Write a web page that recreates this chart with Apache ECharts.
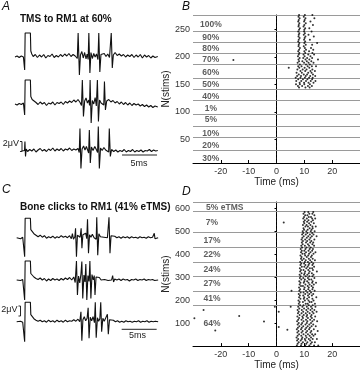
<!DOCTYPE html>
<html><head><meta charset="utf-8">
<script src="https://cdn.jsdelivr.net/npm/echarts@6/dist/echarts.min.js"></script>
<style>html,body{margin:0;padding:0;background:#fff}#c{width:360px;height:371px}</style>
</head><body><div id="c"></div>
<script>
// ---------- DATA ----------
const titleA = 'TMS to RM1 at 60%';
const titleC = 'Bone clicks to RM1 (41% eTMS)';
const scaleUV = 2;   // μV
const scaleMS = 5;   // ms

// waveform traces: [time ms, μV relative to baseline]
const traceA1 = [[0,0],[0.3,0.2],[0.6,-0.1],[0.9,0.2],[1.2,0.0],[1.33,-0.2],[1.38,-2.6],[1.45,4.8],[2.2,4.8],[2.26,1.2],[2.4,0.6],[2.6,0.1],[2.9,0.5],[3.2,-0.1],[3.5,0.4],[3.8,0.0],[4.1,0.5],[4.4,-0.2],[4.7,0.3],[5.0,0.1],[5.3,0.6],[5.6,-0.1],[5.9,0.3],[6.2,0.0],[6.5,0.5],[6.8,0.1],[7.1,0.6],[7.4,0.2],[7.7,0.7],[8.0,0.1],[8.3,0.5],[8.6,0.2],[8.9,-0.3],[9.02,4.8],[9.2,-3.6],[9.35,0.4],[9.55,1.1],[9.75,-0.2],[9.95,0.9],[10.15,-0.4],[10.3,0.6],[10.45,-0.5],[10.55,4.8],[10.7,-3.2],[10.85,0.9],[11.05,-0.3],[11.25,0.7],[11.45,0.0],[11.65,0.6],[11.85,-0.5],[11.97,4.8],[12.12,-3.0],[12.28,0.5],[12.5,0.2],[12.75,0.7],[13.0,0.1],[13.25,0.6],[13.5,-0.1],[13.62,-0.4],[13.75,4.8],[13.9,-2.2],[14.05,0.4],[14.3,0.9],[14.6,0.3],[14.9,0.6],[15.2,0.2],[15.5,0.5],[15.8,0.0],[16.1,0.4],[16.4,0.1],[16.7,0.5],[17.0,-0.1],[17.3,0.4],[17.6,0.0],[17.9,0.5],[18.2,-0.2],[18.5,0.4],[18.8,0.0],[19.1,0.3],[19.4,-0.2],[19.7,0.2],[20.0,-0.1],[20.4,0.1]];
const traceA2 = [[0,0],[0.3,-0.2],[0.6,0.1],[0.9,-0.1],[1.2,0.2],[1.33,0.0],[1.38,-2.2],[1.45,4.8],[2.2,4.8],[2.26,1.5],[2.45,0.9],[2.7,0.5],[3.0,0.3],[3.3,-0.1],[3.6,0.4],[3.9,0.0],[4.2,0.3],[4.5,-0.3],[4.8,0.2],[5.1,0.0],[5.4,0.4],[5.7,-0.2],[6.0,0.3],[6.3,0.1],[6.6,0.4],[6.9,-0.1],[7.2,0.5],[7.5,0.2],[7.8,0.6],[8.1,0.3],[8.4,0.8],[8.7,0.4],[9.0,0.9],[9.3,0.3],[9.5,-0.3],[9.62,4.8],[9.78,-2.5],[9.95,0.6],[10.15,1.2],[10.35,0.2],[10.55,0.8],[10.65,-0.3],[10.73,4.8],[10.88,-3.8],[11.05,0.7],[11.25,0.0],[11.45,1.3],[11.62,-0.4],[11.77,4.8],[11.92,-3.5],[12.08,0.8],[12.3,0.2],[12.55,0.6],[12.68,-0.2],[12.78,4.5],[12.92,-1.2],[13.1,0.6],[13.4,0.9],[13.7,0.4],[14.0,0.7],[14.3,0.2],[14.6,0.5],[14.9,0.0],[15.2,0.4],[15.5,-0.1],[15.8,0.3],[16.1,-0.2],[16.4,0.2],[16.7,-0.3],[17.0,0.1],[17.3,-0.2],[17.6,0.0],[17.9,-0.4],[18.2,-0.1],[18.5,-0.5],[18.8,-0.2],[19.1,-0.6],[19.4,-0.3],[19.7,-0.7],[20.0,-0.4],[20.4,-0.6]];
const traceA3 = [[0.95,0],[1.2,-0.2],[1.36,0.1],[1.42,1.9],[1.5,-1.1],[1.6,0.4],[1.8,-0.1],[2.1,0.3],[2.4,0.0],[2.7,0.4],[3.0,-0.2],[3.3,0.2],[3.6,0.5],[3.9,0.0],[4.2,0.3],[4.5,-0.1],[4.8,0.4],[5.1,0.1],[5.4,0.6],[5.7,0.0],[6.0,0.4],[6.3,0.1],[6.6,0.5],[6.9,0.0],[7.2,0.4],[7.5,0.2],[7.8,0.6],[8.1,0.1],[8.4,0.4],[8.7,0.2],[9.0,0.5],[9.18,-0.3],[9.28,4.5],[9.42,-3.5],[9.58,0.4],[9.8,1.0],[10.0,0.2],[10.2,0.9],[10.4,0.1],[10.52,-0.4],[10.62,4.2],[10.76,-2.4],[10.92,0.8],[11.15,0.1],[11.4,0.9],[11.65,0.2],[11.8,-0.3],[11.9,4.9],[12.05,-3.5],[12.22,0.6],[12.45,0.1],[12.7,0.7],[12.95,0.2],[13.2,0.5],[13.38,-0.2],[13.47,4.5],[13.62,-1.1],[13.8,0.3],[14.1,-0.1],[14.4,0.2],[14.7,-0.2],[15.0,0.1],[15.3,-0.1],[15.6,0.3],[15.9,-0.2],[16.2,0.1],[16.5,-0.1],[16.8,0.3],[17.1,-0.2],[17.4,0.1],[17.7,-0.1],[18.0,0.2],[18.3,-0.2],[18.6,0.1],[18.9,0.0],[19.2,0.3],[19.5,-0.1],[19.8,0.2],[20.1,0.0],[20.4,0.1]];
const traceC1 = [[0.24,0],[0.5,0.1],[0.8,-0.2],[1.1,0.1],[1.33,0.0],[1.38,-3.8],[1.45,3.9],[2.2,3.9],[2.26,1.6],[2.45,1.2],[2.7,0.8],[3.0,0.5],[3.3,0.2],[3.6,0.5],[3.9,0.1],[4.2,0.4],[4.5,-0.1],[4.8,0.2],[5.1,0.0],[5.4,0.3],[5.7,-0.1],[6.0,0.2],[6.3,0.0],[6.6,0.4],[6.9,0.1],[7.2,0.3],[7.5,0.0],[7.8,0.4],[8.05,-0.2],[8.2,0.8],[8.35,-0.3],[8.55,0.2],[8.65,1.9],[8.78,-3.8],[8.92,0.5],[9.1,0.9],[9.3,0.1],[9.45,1.9],[9.56,-2.1],[9.7,0.6],[9.9,0.2],[10.1,0.9],[10.25,-0.2],[10.36,3.7],[10.5,-3.1],[10.65,0.6],[10.85,0.1],[11.05,0.7],[11.3,0.0],[11.5,0.4],[11.6,-0.3],[11.68,4.1],[11.82,-3.5],[11.98,0.8],[12.2,0.2],[12.45,0.6],[12.7,0.1],[12.95,0.5],[13.2,0.0],[13.33,-0.3],[13.43,4.1],[13.57,-3.1],[13.72,0.4],[13.95,0.1],[14.25,0.3],[14.55,0.0],[14.85,0.2],[15.15,-0.1],[15.45,0.2],[15.75,0.0],[16.05,0.2],[16.35,-0.1],[16.65,0.2],[16.95,0.0],[17.25,0.1],[17.55,-0.1],[17.85,0.2],[18.15,0.0],[18.45,0.1],[18.75,-0.1],[19.05,0.2],[19.35,0.0],[19.65,0.1],[19.9,0.9],[20.0,-0.2],[20.2,0.1],[20.45,0.0]];
const traceC2 = [[0.24,0],[0.5,0.1],[0.8,-0.1],[1.1,0.1],[1.33,0.0],[1.38,-4.0],[1.45,3.8],[2.2,3.8],[2.26,1.3],[2.45,0.9],[2.7,0.6],[3.0,0.3],[3.3,0.1],[3.6,0.4],[3.9,0.0],[4.2,0.3],[4.5,-0.2],[4.8,0.2],[5.1,-0.1],[5.4,0.3],[5.7,0.0],[6.0,0.2],[6.3,-0.1],[6.6,0.3],[6.9,0.0],[7.2,0.4],[7.5,0.1],[7.8,0.5],[8.1,0.0],[8.4,0.6],[8.6,-0.5],[8.78,3.8],[8.92,-3.0],[9.08,0.8],[9.25,-0.6],[9.42,1.2],[9.55,3.7],[9.68,-3.7],[9.85,1.0],[10.0,-0.4],[10.12,3.2],[10.26,-4.0],[10.42,0.9],[10.58,-0.3],[10.7,3.8],[10.84,-3.7],[11.0,1.1],[11.18,0.0],[11.32,0.9],[11.43,-3.0],[11.58,0.6],[11.8,0.2],[12.05,0.5],[12.3,0.0],[12.55,0.4],[12.8,0.1],[13.05,0.3],[13.3,-0.1],[13.55,0.2],[13.8,0.0],[13.95,0.9],[14.08,-0.4],[14.25,0.2],[14.55,0.0],[14.85,0.2],[15.15,-0.1],[15.45,0.2],[15.75,0.0],[16.05,0.1],[16.35,-0.2],[16.65,0.1],[16.95,0.0],[17.25,0.2],[17.55,-0.1],[17.85,0.1],[18.15,0.0],[18.45,0.2],[18.75,-0.1],[19.05,0.1],[19.35,0.0],[19.65,0.1],[19.95,-0.1],[20.45,0.0]];
const traceC3 = [[0.24,0],[0.5,-0.1],[0.8,0.1],[1.1,-0.1],[1.33,0.0],[1.38,-4.0],[1.45,3.9],[2.2,3.9],[2.26,1.4],[2.45,1.0],[2.7,0.6],[3.0,0.3],[3.3,0.1],[3.6,0.3],[3.9,0.0],[4.2,0.2],[4.5,-0.1],[4.8,0.3],[5.1,0.0],[5.4,0.2],[5.7,-0.1],[6.0,0.3],[6.3,0.0],[6.6,0.2],[6.9,-0.1],[7.2,0.3],[7.5,0.0],[7.8,0.2],[8.1,0.1],[8.4,0.4],[8.7,0.1],[9.0,0.5],[9.25,0.0],[9.42,2.0],[9.55,-3.8],[9.7,0.4],[9.9,1.0],[10.1,0.2],[10.3,0.7],[10.45,2.8],[10.58,-3.3],[10.75,0.9],[10.95,0.2],[11.15,1.0],[11.35,-0.2],[11.47,3.9],[11.6,-3.2],[11.78,0.8],[11.95,0.1],[12.12,0.6],[12.25,3.9],[12.38,-2.0],[12.55,0.7],[12.75,0.1],[12.95,0.5],[13.2,1.5],[13.33,-2.5],[13.5,0.4],[13.75,0.1],[14.05,0.3],[14.35,0.0],[14.65,0.2],[14.95,-0.1],[15.25,0.1],[15.55,-0.1],[15.85,0.2],[16.15,0.0],[16.45,0.1],[16.75,-0.1],[17.05,0.1],[17.35,0.0],[17.65,0.2],[17.95,-0.1],[18.25,0.1],[18.55,0.0],[18.85,0.2],[19.15,-0.1],[19.45,0.1],[19.75,0.0],[20.05,0.1],[20.45,0.0]];

// raster B
const blockLabelsB = ['100%','90%','80%','70%','60%','50%','40%','1%','5%','10%','20%','30%'];
const blockLabelTrialB = [258,235.5,214,194,171,149,127.5,106.5,85,61,38.5,15.5];
const blockEdgesB = [29.3,53.6,74.7,95.5,121.5,140.9,160.9,186.4,206.4,226.4,246.9,276];
const yTicksB = [50,100,150,200,250];
const yRangeB = [7, 276];
// rows: [trial, spike times (ms)...]
const rasterB = [
[276,8.1,10.2,12.9],[273,7.9,9.8],[270,8.3,10.4,13.6],[267,8.0,10.1],[264,7.8,9.9,12.2],[261,8.2,10.5],
[258,8.0,10.0,13.1],[255,7.9,9.7],[252,8.4,10.3,11.8],[249,8.1,10.0],[246,7.8,9.9,12.6],[243,8.2,10.2],
[240,8.0,9.8,11.5],[237,7.9,10.4,13.4],[234,8.3,10.1],[231,8.0,9.9,12.0],[228,7.8,10.3],[225,8.2,10.0,14.6],
[222,8.0,10.5,12.8],[219,7.9,9.8],[216,8.4,10.2,12.4],[213,8.1,10.6,13.2],[210,7.8,10.0,11.7],[207,8.2,10.3,12.9],
[204,8.0,9.7,11.4,13.5],[201,7.7,10.1,12.2],[198,8.3,9.6,11.0,12.8],[195,7.9,10.4,11.8,14.9],[194,-15.5],
[192,8.1,9.3,10.9,12.5],[189,7.6,9.9,11.5,13.3],[186,8.4,10.6,12.0],[183,7.8,9.0,11.2,12.7,14.2],
[180,8.2,10.1,11.8,4.4],[177,7.5,9.4,10.8,12.9],[174,8.6,10.3,12.2,13.8],[171,7.2,9.1,11.4,12.6],
[168,8.0,9.8,11.0,13.1],[165,7.4,8.8,10.5,12.1,13.9],[162,6.9,8.6,10.2,11.7,13.0],[159,7.8,9.5,11.1,12.8],
[156,7.1,8.9,10.6,12.3,14.0],[153,8.3,9.9,11.5,13.3],[150,7.0,8.4,10.0,12.0],[147,7.7,9.2,11.3,12.7],[144,8.1,10.4,11.9]
];

// raster D
const blockLabelsD = ['5% eTMS','7%','17%','22%','24%','27%','41%','64%'];
const blockLabelTrialD = [605,536,460,399,334.5,273,205,97];
const blockEdgesD = [176.1,240.8,304.3,366,430.7,495.5,586,628];
const yRangeD = [0, 628];
const rasterD = [
[584,10.1,11.4,13.2],[577,9.7,11.8,12.9],[570,10.3,11.1,13.6],[563,9.9,11.6,12.4],[556,9.6,10.9,12.8,13.9],
[549,10.2,11.5,13.1],[542,9.8,11.0,12.5],[539,2.6],[535,10.0,11.7,13.4],[528,9.5,10.8,12.2],[521,10.4,11.3,12.9,14.1],
[514,9.7,11.9,13.0],[507,9.9,11.2,12.6],[500,9.4,10.7,12.3,13.7],[493,9.6,11.1,12.8],[486,9.2,10.5,12.0,13.3],
[479,9.8,11.4,12.7,14.4],[472,9.3,10.9,12.2],[465,9.0,10.3,11.8,13.6],[458,9.5,11.0,12.5],[451,9.1,10.6,12.1,13.2],
[444,9.4,11.3,12.9],[437,8.9,10.2,11.7,13.5],[430,9.2,10.8,12.3],[423,8.7,10.4,11.9,13.1],[416,9.1,10.0,11.5,12.8],
[409,8.8,10.6,12.2,14.0],[402,9.3,10.1,11.7,13.3],[395,8.6,10.3,11.4,12.7],[388,9.0,10.9,12.4],[381,8.8,9.8,11.6,13.0],
[374,9.2,10.5,12.1,13.8],[367,8.5,10.2,11.3,12.6],[360,8.9,9.9,11.8,13.2],[353,8.6,10.4,11.5,12.9],[346,9.1,10.0,11.2,13.5],
[339,8.4,10.7,12.0,12.8],[332,8.8,9.7,11.4,13.1],[325,8.5,10.3,11.9,14.5],[318,9.0,10.1,11.6,12.7],[311,8.3,9.9,11.1,13.3],
[304,8.7,10.5,11.8,12.9],[297,8.4,9.6,11.3,13.6],[290,8.9,10.2,11.7,12.5],[283,8.2,10.0,11.0,13.0],[276,8.6,9.8,11.5,12.8,14.2],
[269,8.3,10.4,11.9,13.4],[262,8.8,9.5,11.2,12.6],[255,8.1,10.1,11.6,13.1],[248,8.5,9.9,11.4,12.9],[241,8.2,10.6,12.0,13.7,5.4],
[234,8.7,9.7,11.1,12.4],[227,8.0,10.3,11.8,13.2],[220,8.4,9.6,11.3,12.7],[213,8.1,10.0,11.7,14.3],[206,8.6,9.8,11.0,12.9],
[199,7.9,10.2,11.5,13.3],[192,8.3,9.5,11.9,12.6],[185,8.0,10.5,11.2,13.8],[178,8.5,9.7,11.6,13.0],
[172,5.1,-0.6],[171,7.8,9.3,10.9,12.4,14.0],[164,8.2,9.9,11.4,12.8],[157,7.6,9.1,10.7,12.2,13.6,-26.2],
[150,8.0,9.6,11.2,12.9,14.4,0.8],[143,7.7,9.0,10.5,11.9,13.3],[136,8.3,9.8,11.0,12.6],[131,-13.4],
[129,7.5,9.3,10.8,12.3,13.9],[122,8.1,9.5,11.3,12.7],[121,-29.5],[115,7.8,9.0,10.6,12.1,13.5],
[108,7.4,9.7,11.1,12.9,14.6],[107,-4.5],[101,8.0,9.2,10.9,12.4],[94,7.6,8.9,10.4,11.8,13.2],[87,8.2,9.6,11.2,12.6,14.1],
[83,0.8],[80,7.7,9.1,10.7,12.0],[73,7.3,8.8,10.3,11.7,13.4],[71,3.9],[68,-22.0],[66,7.9,9.4,11.0,12.5,14.8],
[59,7.5,9.0,10.6,12.2],[52,8.1,9.7,11.3,12.8,13.9],[45,7.6,8.9,10.5,11.9,13.3],[38,7.2,9.3,10.8,12.4],
[31,7.8,9.1,10.2,11.6,13.0,14.5],[24,7.4,8.7,10.4,12.1],[17,8.0,9.5,11.1,12.7,13.8],[10,7.6,9.0,10.7,12.3],
[3,7.3,8.8,10.3,11.8,13.5,15.0]
];

// ---------- BUILD ----------
const FONT = 'Liberation Sans, Arial, sans-serif';
const offA = [23.6, 14.2, 4.8];
const offC = [24.46, 16.0, 7.66];
const shift = (tr, off) => tr.map(p => [p[0], p[1] + off]);
const toDots = rows => { const out = []; rows.forEach(r => { for (let i = 1; i < r.length; i++) out.push([r[i], r[0]]); }); return out; };

function traceSeries(tr, off, idx) {
  return { type: 'line', xAxisIndex: idx, yAxisIndex: idx, data: shift(tr, off), showSymbol: false, symbol: 'none',
    lineStyle: { color: '#111', width: 1.1 }, silent: true, z: 3 };
}
function barSeries(data, idx) {
  return { type: 'line', xAxisIndex: idx, yAxisIndex: idx, data, symbol: 'none', lineStyle: { color: '#222', width: 1 }, silent: true };
}
function zeroLine(idx, range) {
  return { type: 'line', xAxisIndex: idx, yAxisIndex: idx, data: [[0, range[0]], [0, range[1]]], symbol: 'none',
    lineStyle: { color: '#111', width: 1, type: [1.5, 2.5] }, silent: true, z: 2 };
}
function blockSeries(idx, labels, trials, edges, labelX, firstLabelX) {
  return {
    type: 'scatter', xAxisIndex: idx, yAxisIndex: idx, symbolSize: 0, silent: true, z: 4,
    data: labels.map((l, i) => ({ name: l, value: [i === 0 && firstLabelX != null ? firstLabelX : labelX, trials[i]] })),
    label: { show: true, position: 'inside', formatter: p => p.name, fontFamily: FONT, fontWeight: 'bold', fontSize: 8.5, color: '#333' },
    markLine: {
      silent: true, symbol: ['none', 'none'], label: { show: false }, animation: false,
      lineStyle: { color: '#9a9a9a', width: 1, type: 'solid' },
      data: edges.map(v => ({ yAxis: v }))
    }
  };
}
function dotSeries(idx, rows) {
  return { type: 'scatter', xAxisIndex: idx, yAxisIndex: idx, data: toDots(rows), symbol: 'circle', symbolSize: 2,
    itemStyle: { color: '#000' }, silent: true, z: 5 };
}

const hidden = { show: false };
const xRaster = (grid) => ({
  type: 'value', gridIndex: grid, min: -30, max: 30, interval: 10,
  axisLine: { show: true, lineStyle: { color: '#000', width: 1 } },
  axisTick: { show: true, inside: true, length: 3, lineStyle: { color: '#000' } },
  axisLabel: { fontFamily: FONT, fontSize: 9, color: '#333', margin: 4, showMinLabel: false, showMaxLabel: false },
  splitLine: hidden, name: 'Time (ms)', nameLocation: 'middle', nameGap: 13,
  nameTextStyle: { fontFamily: FONT, fontSize: 10, color: '#222' }
});
const yRasterBase = {
  type: 'value', axisLine: { show: true, lineStyle: { color: '#000', width: 1 } },
  splitLine: hidden, name: 'N(stims)', nameLocation: 'middle', nameGap: 18, nameRotate: 90,
  nameTextStyle: { fontFamily: FONT, fontSize: 10, color: '#222' }
};

const option = {
  animation: false,
  backgroundColor: '#fff',
  grid: [
    { left: 15, top: 20, width: 143, height: 155 },
    { left: 193, top: 15, width: 168, height: 148 },
    { left: 15, top: 205, width: 143, height: 155 },
    { left: 193, top: 202, width: 168, height: 145.5 }
  ],
  xAxis: [
    { type: 'value', gridIndex: 0, min: 0, max: 20.43, show: false },
    xRaster(1),
    { type: 'value', gridIndex: 2, min: 0, max: 20.43, show: false },
    xRaster(3)
  ],
  yAxis: [
    { type: 'value', gridIndex: 0, min: 0, max: 31, show: false },
    Object.assign({}, yRasterBase, { gridIndex: 1, min: yRangeB[0], max: yRangeB[1],
      axisTick: { show: true, length: 2, customValues: yTicksB, lineStyle: { color: '#000' } },
      axisLabel: { fontFamily: FONT, fontSize: 9, color: '#333', margin: 3, customValues: yTicksB } }),
    { type: 'value', gridIndex: 2, min: 0, max: 31, show: false },
    Object.assign({}, yRasterBase, { gridIndex: 3, min: yRangeD[0], max: yRangeD[1], interval: 100,
      axisTick: { show: true, length: 2, lineStyle: { color: '#000' } },
      axisLabel: { fontFamily: FONT, fontSize: 9, color: '#333', margin: 3, showMinLabel: false, showMaxLabel: false } })
  ],
  series: [
    traceSeries(traceA1, offA[0], 0), traceSeries(traceA2, offA[1], 0), traceSeries(traceA3, offA[2], 0),
    barSeries([[0.71, 4.7 + scaleUV], [1.0, 4.7 + scaleUV], [1.0, 4.7], [0.71, 4.7]], 0),
    barSeries([[15.29, 4.0], [15.29 + scaleMS, 4.0]], 0),
    blockSeries(1, blockLabelsB, blockLabelTrialB, blockEdgesB, -23.6),
    zeroLine(1, yRangeB),
    dotSeries(1, rasterB),
    traceSeries(traceC1, offC[0], 2), traceSeries(traceC2, offC[1], 2), traceSeries(traceC3, offC[2], 2),
    barSeries([[0.5, 8.8 + scaleUV], [0.79, 8.8 + scaleUV], [0.79, 8.8], [0.5, 8.8]], 2),
    barSeries([[15.24, 6.14], [15.24 + scaleMS, 6.14]], 2),
    blockSeries(3, blockLabelsD, blockLabelTrialD, blockEdgesD, -23.2, -18.6),
    zeroLine(3, yRangeD),
    dotSeries(3, rasterD)
  ],
  graphic: [
    { type: 'text', x: 2, y: 7, style: { text: 'A', font: 'italic 12px ' + FONT, fill: '#111', verticalAlign: 'middle' } },
    { type: 'text', x: 182, y: 7, style: { text: 'B', font: 'italic 12px ' + FONT, fill: '#111', verticalAlign: 'middle' } },
    { type: 'text', x: 2, y: 190, style: { text: 'C', font: 'italic 12px ' + FONT, fill: '#111', verticalAlign: 'middle' } },
    { type: 'text', x: 182, y: 192, style: { text: 'D', font: 'italic 12px ' + FONT, fill: '#111', verticalAlign: 'middle' } },
    { type: 'text', x: 20, y: 19, style: { text: titleA, font: 'bold 10px ' + FONT, fill: '#111', verticalAlign: 'middle' } },
    { type: 'text', x: 20, y: 207.5, style: { text: titleC, font: 'bold 10px ' + FONT, fill: '#111', verticalAlign: 'middle' } },
    { type: 'text', x: 19, y: 144, style: { text: scaleUV + 'μV', font: '9px ' + FONT, fill: '#222', align: 'right', verticalAlign: 'middle' } },
    { type: 'text', x: 139, y: 164, style: { text: scaleMS + 'ms', font: '9px ' + FONT, fill: '#222', align: 'center', verticalAlign: 'middle' } },
    { type: 'text', x: 17.5, y: 310, style: { text: scaleUV + 'μV', font: '9px ' + FONT, fill: '#222', align: 'right', verticalAlign: 'middle' } },
    { type: 'text', x: 137.5, y: 336, style: { text: scaleMS + 'ms', font: '9px ' + FONT, fill: '#222', align: 'center', verticalAlign: 'middle' } }
  ]
};
const chart = echarts.init(document.getElementById('c'), null, { renderer: 'canvas' });
chart.setOption(option);
</script></body></html>
